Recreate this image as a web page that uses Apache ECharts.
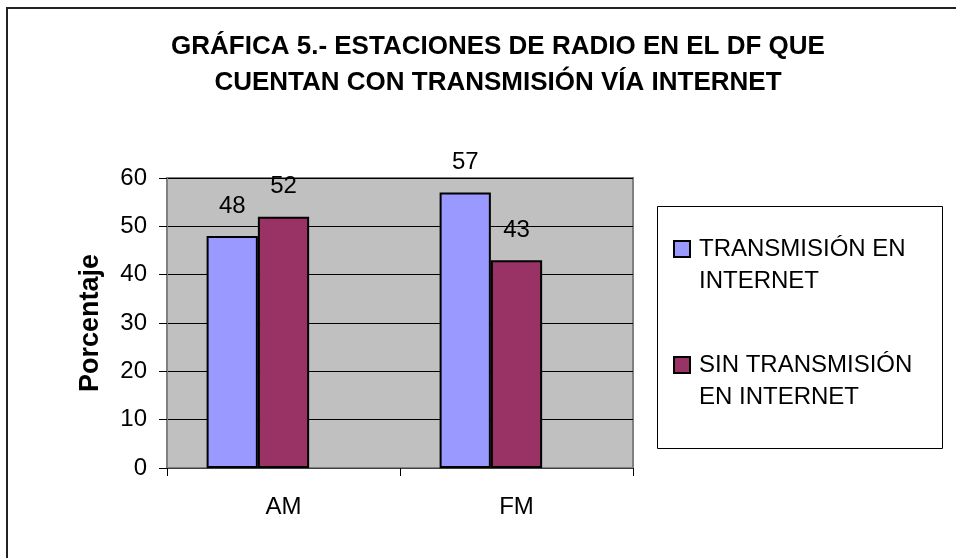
<!DOCTYPE html>
<html>
<head>
<meta charset="utf-8">
<script src="https://cdn.jsdelivr.net/npm/echarts@6/dist/echarts.min.js"></script>
<style>html,body{margin:0;padding:0;background:#fff}#c{width:956px;height:558px}</style>
</head>
<body>
<div id="c"></div>
<script>
const categories = ['AM', 'FM'];
const seriesNames = ['TRANSMISIÓN EN INTERNET', 'SIN TRANSMISIÓN EN INTERNET'];
const legendLabels = ['TRANSMISIÓN EN\nINTERNET', 'SIN TRANSMISIÓN\nEN INTERNET'];
const withInternet = [48, 57];
const withoutInternet = [52, 43];
const yTicks = [0, 10, 20, 30, 40, 50, 60];
const titleText = 'GRÁFICA 5.- ESTACIONES DE RADIO EN EL DF QUE\nCUENTAN CON TRANSMISIÓN VÍA INTERNET';
const yName = 'Porcentaje';

const FONT = '"Liberation Sans", Arial, sans-serif';
const colors = ['#9999FF', '#993366'];
const seriesValues = [withInternet, withoutInternet];

const barSeries = seriesNames.map(function (n, i) {
  return {
    name: n,
    type: 'bar',
    data: seriesValues[i],
    barGap: '0%',
    barCategoryGap: '34%',
    itemStyle: {color: colors[i], borderColor: '#000', borderWidth: 2},
    label: {show: true, position: 'top', distance: 18, fontFamily: FONT, fontSize: 24, color: '#000'}
  };
});
// empty slot series (the original chart reserves room for a third, empty bar in each group)
barSeries.push({name: 'reserved', type: 'bar', data: [], barGap: '0%', barCategoryGap: '34%'});

const chart = echarts.init(document.getElementById('c'), null, {renderer: 'canvas'});
chart.setOption({
  animation: false,
  backgroundColor: '#ffffff',
  title: {
    text: titleText,
    left: 498,
    textAlign: 'center',
    top: 29,
    padding: 0,
    textStyle: {fontFamily: FONT, fontSize: 26, fontWeight: 'bold', color: '#000', lineHeight: 36}
  },
  graphic: [
    {type: 'rect', shape: {x: 7, y: 8, width: 1000, height: 700}, style: {fill: 'none', stroke: '#222', lineWidth: 2}, z: 100},
    {type: 'rect', shape: {x: 657.5, y: 206.5, width: 285, height: 242}, style: {fill: 'none', stroke: '#000', lineWidth: 1}, z: 100}
  ],
  legend: {
    orient: 'vertical',
    left: 673,
    top: 201,
    padding: 0,
    itemGap: 20,
    itemWidth: 16,
    itemHeight: 16,
    icon: 'rect',
    data: seriesNames,
    formatter: function (name) {
      const lines = ('\n' + legendLabels[seriesNames.indexOf(name)]).split('\n');
      return lines.map(function (l) { return '{t|' + l + '}'; }).join('\n');
    },
    textStyle: {
      fontFamily: FONT, fontSize: 24, color: '#000', lineHeight: 32,
      rich: {t: {fontFamily: FONT, fontSize: 24, color: '#000', lineHeight: 32, padding: [0, 0, 0, 4]}}
    }
  },
  grid: {
    left: 167, right: 323, top: 178, bottom: 90,
    show: true, backgroundColor: '#C0C0C0', borderColor: '#808080', borderWidth: 2
  },
  xAxis: {
    type: 'category',
    data: categories,
    axisLine: {show: true, lineStyle: {color: '#404040', width: 1}},
    axisTick: {show: true, length: 8, lineStyle: {color: '#000'}},
    axisLabel: {fontFamily: FONT, fontSize: 24, color: '#000', margin: 27}
  },
  yAxis: {
    type: 'value',
    min: yTicks[0], max: yTicks[yTicks.length - 1], interval: 10,
    name: yName,
    nameLocation: 'middle',
    nameGap: 63,
    nameTextStyle: {fontFamily: FONT, fontSize: 27, fontWeight: 'bold', color: '#000'},
    axisLine: {show: true, lineStyle: {color: '#808080', width: 2}},
    axisTick: {show: true, length: 8, lineStyle: {color: '#000'}},
    axisLabel: {fontFamily: FONT, fontSize: 24, color: '#000', margin: 20},
    splitLine: {show: true, lineStyle: {color: '#000', width: 1}}
  },
  series: barSeries
});
</script>
</body>
</html>
